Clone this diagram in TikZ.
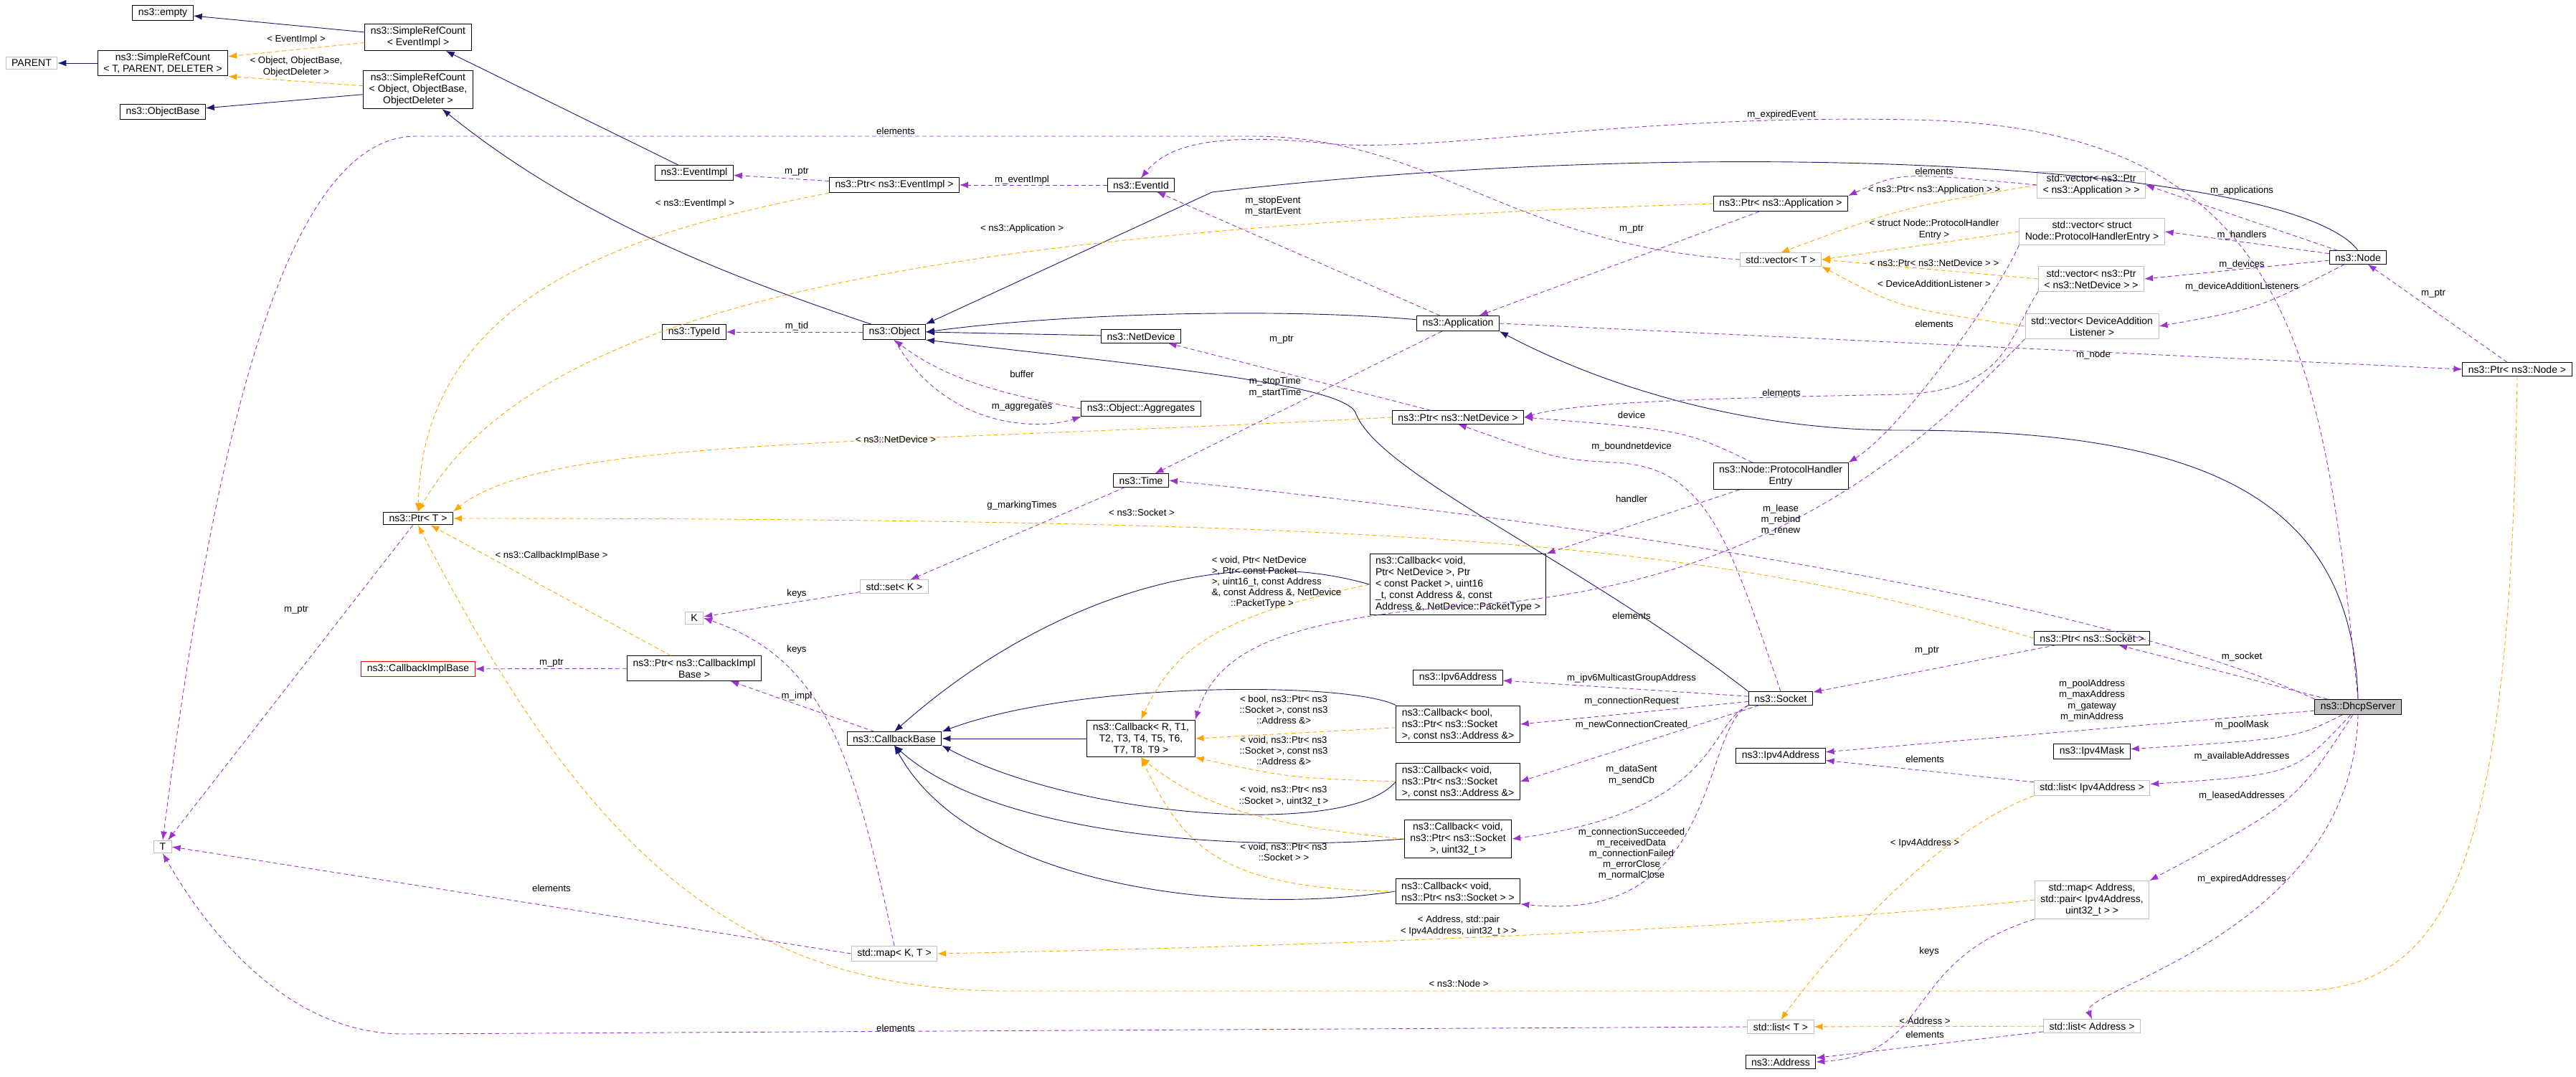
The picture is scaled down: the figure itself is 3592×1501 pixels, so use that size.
\documentclass[tikz,border=0pt]{standalone}
\usepackage{fontspec}
\setmainfont{Liberation Sans}
\usetikzlibrary{arrows.meta,positioning}
\definecolor{inhc}{HTML}{191970}
\definecolor{usec}{HTML}{9A32CD}
\definecolor{tplc}{HTML}{FFA500}
\definecolor{grayc}{HTML}{BFBFBF}
\tikzset{
  cls/.style={draw=black, rectangle, font=\fontsize{7}{8}\selectfont, align=center, inner xsep=4pt, inner ysep=2pt, line width=0.5pt},
  ext/.style={cls, draw=grayc},
  badcls/.style={cls, draw=red},
  lab/.style={font=\fontsize{6.6}{7.6}\selectfont, align=center, inner sep=0pt},
  inh/.style={draw=inhc, line width=0.45pt, -{Latex[length=6pt,width=4.5pt]}},
  use/.style={draw=usec, line width=0.45pt, dash pattern=on 3pt off 2pt, -{Latex[length=6pt,width=4.5pt]}},
  tpl/.style={draw=tplc, line width=0.45pt, dash pattern=on 3pt off 2pt, -{Latex[length=6pt,width=4.5pt]}}
}
\begin{document}
\begin{tikzpicture}[x=0.5pt, y=-0.5pt]
  \useasboundingbox (0,0) rectangle (3592,1501);

  % classes
  \node[cls] (empty) at (227,18) {ns3::empty};
  \node[ext] (parent) at (44,88) {PARENT};
  \node[cls] (srcgen) at (227,88) {ns3::SimpleRefCount\\< T, PARENT, DELETER >};
  \node[cls] (objbase) at (227,156) {ns3::ObjectBase};
  \node[cls] (srcevt) at (583,52) {ns3::SimpleRefCount\\< EventImpl >};
  \node[cls] (srcobj) at (583,125) {ns3::SimpleRefCount\\< Object, ObjectBase,\\ObjectDeleter >};
  \node[cls] (ptrt) at (583,723) {ns3::Ptr< T >};
  \node[badcls] (cbimpl) at (583,933) {ns3::CallbackImplBase};
  \node[ext] (tt) at (227,1181) {T};
  \node[cls] (evtimpl) at (968,241) {ns3::EventImpl};
  \node[cls] (ptrevt) at (1247,258) {ns3::Ptr< ns3::EventImpl >};
  \node[cls] (evtid) at (1591,258) {ns3::EventId};
  \node[cls] (typeid) at (968,463) {ns3::TypeId};
  \node[cls] (object) at (1247,463) {ns3::Object};
  \node[cls] (netdev) at (1591,469) {ns3::NetDevice};
  \node[cls] (aggr) at (1591,570) {ns3::Object::Aggregates};
  \node[cls] (time) at (1591,670) {ns3::Time};
  \node[ext] (setk) at (1247,818) {std::set< K >};
  \node[ext] (kk) at (968,862) {K};
  \node[cls] (ptrcbi) at (968,932) {ns3::Ptr< ns3::CallbackImpl\\Base >};
  \node[cls] (cbbase) at (1247,1030) {ns3::CallbackBase};
  \node[cls] (cbrt) at (1591,1030) {ns3::Callback< R, T1,\\T2, T3, T4, T5, T6,\\T7, T8, T9 >};
  \node[ext] (mapkt) at (1247,1330) {std::map< K, T >};
  \node[cls] (ptrapp) at (2483,284) {ns3::Ptr< ns3::Application >};
  \node[ext] (vect) at (2483,362) {std::vector< T >};
  \node[cls] (app) at (2033,451) {ns3::Application};
  \node[cls] (ptrnd) at (2033,582) {ns3::Ptr< ns3::NetDevice >};
  \node[cls] (phe) at (2483,664) {ns3::Node::ProtocolHandler\\Entry};
  \node[cls, align=left] (cbnd) at (2033,815) {ns3::Callback< void,\\ Ptr< NetDevice >, Ptr\\< const Packet >, uint16\\\_t, const Address \&, const\\ Address \&, NetDevice::PacketType >};
  \node[cls] (ipv6) at (2033,945) {ns3::Ipv6Address};
  \node[cls] (socket) at (2483,974) {ns3::Socket};
  \node[cls, align=left] (cbbool) at (2033,1010) {ns3::Callback< bool,\\ns3::Ptr< ns3::Socket\\>, const ns3::Address \&>};
  \node[cls] (ipv4) at (2483,1054) {ns3::Ipv4Address};
  \node[cls, align=left] (cbaddr) at (2033,1090) {ns3::Callback< void,\\ns3::Ptr< ns3::Socket\\>, const ns3::Address \&>};
  \node[cls] (cbuint) at (2033,1170) {ns3::Callback< void,\\ns3::Ptr< ns3::Socket\\>, uint32\_t >};
  \node[cls, align=left] (cbvoid) at (2033,1243) {ns3::Callback< void,\\ ns3::Ptr< ns3::Socket > >};
  \node[ext] (listt) at (2483,1432) {std::list< T >};
  \node[cls] (address) at (2483,1481) {ns3::Address};
  \node[ext] (vecapp) at (2916,258) {std::vector< ns3::Ptr\\< ns3::Application > >};
  \node[ext] (vecphe) at (2917,323) {std::vector< struct\\ Node::ProtocolHandlerEntry >};
  \node[ext] (vecnd) at (2916,389) {std::vector< ns3::Ptr\\< ns3::NetDevice > >};
  \node[ext] (vecdal) at (2917,455) {std::vector< DeviceAddition\\Listener >};
  \node[cls] (node) at (3288,359) {ns3::Node};
  \node[cls] (ptrnode) at (3510,515) {ns3::Ptr< ns3::Node >};
  \node[cls] (ptrsock) at (2917,890) {ns3::Ptr< ns3::Socket >};
  \node[cls, fill=grayc] (dhcp) at (3288,986) {ns3::DhcpServer};
  \node[cls] (mask) at (2917,1048) {ns3::Ipv4Mask};
  \node[ext] (listip) at (2917,1099) {std::list< Ipv4Address >};
  \node[ext] (mapaddr) at (2917,1255) {std::map< Address,\\ std::pair< Ipv4Address,\\uint32\_t > >};
  \node[ext] (listaddr) at (2917,1431) {std::list< Address >};

  % inheritance
  \draw[inh] (srcevt) -- (empty);
  \draw[inh] (srcgen) -- (parent);
  \draw[inh] (srcobj) -- (objbase);
  \draw[inh] (evtimpl) -- (srcevt);
  \draw[inh] (object) .. controls (1000,380) and (800,300) .. (srcobj);
  \draw[inh] (app) .. controls (1800,430) and (1500,435) .. (object.east);
  \draw[inh] (netdev) -- (object.east);
  \draw[inh] (node.north) .. controls (3200,230) and (2400,185) .. (1690,268) -- (object.north east);
  \draw[inh] (socket.north west) .. controls (2200,780) and (1920,660) .. (1890,575) .. controls (1870,535) and (1600,510) .. (object.south east);
  \draw[inh] (dhcp.north) .. controls (3280,680) and (3050,600) .. (2650,600) .. controls (2400,600) and (2200,520) .. (app.south east);
  \draw[inh] (cbrt) -- (cbbase);
  \draw[inh] (cbnd.west) .. controls (1700,755) and (1450,840) .. (cbbase.north);
  \draw[inh] (cbbool.north west) .. controls (1880,950) and (1500,950) .. (cbbase.north east);
  \draw[inh] (cbaddr.west) .. controls (1880,1170) and (1500,1140) .. (cbbase.south east);
  \draw[inh] (cbuint.west) .. controls (1700,1190) and (1380,1160) .. (cbbase.south);
  \draw[inh] (cbvoid.west) .. controls (1700,1280) and (1350,1230) .. (cbbase.south);

  % template instances
  \draw[tpl] (srcevt) -- (srcgen);
  \draw[tpl] (srcobj) -- (srcgen.south east);
  \draw[tpl] (ptrevt.south west) .. controls (900,320) and (590,400) .. (ptrt.north);
  \draw[tpl] (ptrapp.west) .. controls (1300,320) and (750,420) .. (ptrt.north);
  \draw[tpl] (ptrnd.west) .. controls (1200,621) and (760,610) .. (ptrt.north east);
  \draw[tpl] (ptrsock.west) .. controls (2400,760) and (2000,723) .. (ptrt.east);
  \draw[tpl] (ptrcbi) -- (ptrt);
  \draw[tpl] (ptrnode.south) .. controls (3500,1200) and (3420,1382) .. (3200,1382) -- (1400,1382) .. controls (1000,1380) and (800,1150) .. (ptrt.south);
  \draw[tpl] (vecapp.west) .. controls (2650,290) .. (vect.north);
  \draw[tpl] (vecphe.west) -- (vect.east);
  \draw[tpl] (vecnd.west) -- (vect.east);
  \draw[tpl] (vecdal.west) .. controls (2650,430) .. (vect.south east);
  \draw[tpl] (cbnd.west) .. controls (1700,860) and (1640,900) .. (cbrt.north);
  \draw[tpl] (cbbool) -- (cbrt.east);
  \draw[tpl] (cbaddr.west) .. controls (1800,1085) .. (cbrt.south east);
  \draw[tpl] (cbuint.west) .. controls (1750,1150) and (1670,1120) .. (cbrt.south);
  \draw[tpl] (cbvoid.west) .. controls (1700,1240) and (1650,1180) .. (cbrt.south);
  \draw[tpl] (mapaddr.west) .. controls (2400,1300) and (1800,1320) .. (mapkt.east);
  \draw[tpl] (listip.south west) .. controls (2700,1160) and (2550,1330) .. (listt.north);
  \draw[tpl] (listaddr) -- (listt);

  % usage
  \draw[use] (ptrevt) -- (evtimpl);
  \draw[use] (evtid) -- (ptrevt);
  \draw[use] (object) -- (typeid);
  \draw[use] (aggr.west) .. controls (1400,550) and (1320,530) .. (object.south);
  \draw[use] (object.south) .. controls (1320,600) and (1450,600) .. (aggr.south west);
  \draw[use] (ptrt) -- (tt);
  \draw[use] (vect.west) .. controls (2100,340) and (2000,192) .. (1750,190) -- (580,190) .. controls (400,190) and (300,600) .. (tt.north);
  \draw[use] (mapkt.west) -- (tt.east);
  \draw[use] (listt.west) -- (560,1442) .. controls (400,1440) and (290,1300) .. (tt.south);
  \draw[use] (setk) -- (kk);
  \draw[use] (mapkt.north) .. controls (1190,1050) and (1150,920) .. (kk.east);
  \draw[use] (time) -- (setk);
  \draw[use] (ptrcbi) -- (cbimpl);
  \draw[use] (cbbase) -- (ptrcbi);
  \draw[use] (app) -- (evtid);
  \draw[use] (dhcp.north) .. controls (3240,500) and (3200,190) .. (2700,168) .. controls (2300,155) and (2000,215) .. (1850,200) .. controls (1700,185) and (1630,200) .. (evtid.north);
  \draw[use] (ptrapp) -- (app);
  \draw[use] (ptrnd) -- (netdev);
  \draw[use] (app) -- (time);
  \draw[use] (dhcp.north west) .. controls (3000,870) and (2500,760) .. (time.east);
  \draw[use] (app.east) -- (ptrnode.west);
  \draw[use] (vecapp.west) .. controls (2650,240) .. (ptrapp.north east);
  \draw[use] (vecnd.south west) .. controls (2800,470) and (2800,545) .. (2650,550) .. controls (2400,555) and (2200,560) .. (ptrnd.east);
  \draw[use] (phe) .. controls (2350,600) .. (ptrnd.east);
  \draw[use] (socket.north) .. controls (2410,750) and (2380,650) .. (2250,645) .. controls (2170,640) .. (ptrnd.south);
  \draw[use] (phe) -- (cbnd.north east);
  \draw[use] (vecphe.south west) .. controls (2780,420) and (2650,600) .. (phe.north east);
  \draw[use] (vecdal.south west) .. controls (2700,600) and (2500,800) .. (2100,840) .. controls (1800,860) and (1700,900) .. (cbrt.north east);
  \draw[use] (node) -- (vecapp.east);
  \draw[use] (node) -- (vecphe.east);
  \draw[use] (node) -- (vecnd.east);
  \draw[use] (node) .. controls (3150,430) .. (vecdal.east);
  \draw[use] (ptrnode) -- (node);
  \draw[use] (socket) -- (ipv6);
  \draw[use] (socket) -- (cbbool.east);
  \draw[use] (socket) -- (cbaddr.east);
  \draw[use] (socket.south west) .. controls (2380,1010) and (2400,1130) .. (cbuint.east);
  \draw[use] (socket.south west) .. controls (2370,1020) and (2400,1290) .. (cbvoid.south east);
  \draw[use] (ptrsock) -- (socket);
  \draw[use] (dhcp) -- (ptrsock);
  \draw[use] (dhcp) -- (ipv4);
  \draw[use] (listip) -- (ipv4);
  \draw[use] (dhcp) .. controls (3200,1030) .. (mask);
  \draw[use] (dhcp) .. controls (3200,1080) .. (listip);
  \draw[use] (dhcp) .. controls (3200,1120) .. (mapaddr.north east);
  \draw[use] (dhcp.south) .. controls (3280,1300) and (2900,1380) .. (listaddr.north);
  \draw[use] (mapaddr.south west) .. controls (2650,1340) and (2700,1470) .. (address.east);
  \draw[use] (listaddr) -- (address);

  % labels
  \node[lab] (lA1) at (413,55) {< EventImpl >};
  \node[lab] (lA2) at (413,93) {< Object, ObjectBase,\\ObjectDeleter >};
  \node[lab] (lA3) at (769,775) {< ns3::CallbackImplBase >};
  \node[lab] (lA4) at (413,851) {m\_ptr};
  \node[lab] (lA5) at (769,925) {m\_ptr};
  \node[lab] (lA6) at (769,1239) {elements};
  \node[lab] (lB1) at (1249,183) {elements};
  \node[lab] (lB2) at (1111,240) {m\_ptr};
  \node[lab] (lB3) at (969,284) {< ns3::EventImpl >};
  \node[lab] (lB4) at (1425,251) {m\_eventImpl};
  \node[lab] (lB5) at (1425,319) {< ns3::Application >};
  \node[lab] (lB6) at (1111,455) {m\_tid};
  \node[lab] (lB7) at (1425,522) {buffer};
  \node[lab] (lB8) at (1425,568) {m\_aggregates};
  \node[lab] (lB9) at (1249,613) {< ns3::NetDevice >};
  \node[lab] (lB10) at (1425,705) {g\_markingTimes};
  \node[lab] (lB11) at (1592,715) {< ns3::Socket >};
  \node[lab] (lB12) at (1111,828) {keys};
  \node[lab] (lB13) at (1111,906) {keys};
  \node[lab] (lB14) at (1111,971) {m\_impl};
  \node[lab] (lB15) at (1249,1434) {elements};
  \node[lab] (lC1) at (2484,160) {m\_expiredEvent};
  \node[lab] (lC2) at (1775,288) {m\_stopEvent\\m\_startEvent};
  \node[lab] (lC3) at (2275,320) {m\_ptr};
  \node[lab] (lC4) at (1787,474) {m\_ptr};
  \node[lab] (lC5) at (1778,540) {m\_stopTime\\m\_startTime};
  \node[lab] (lC6) at (2484,548) {elements};
  \node[lab] (lC7) at (2275,579) {device};
  \node[lab] (lC8) at (2275,623) {m\_boundnetdevice};
  \node[lab] (lC9) at (2275,696) {handler};
  \node[lab] (lC10) at (2483,725) {m\_lease\\m\_rebind\\m\_renew};
  \node[lab] (lC11) at (2275,859) {elements};
  \node[lab] (lD1) at (2697,239) {elements};
  \node[lab] (lD2) at (2697,265) {< ns3::Ptr< ns3::Application > >};
  \node[lab] (lD3) at (2697,320) {< struct Node::ProtocolHandler\\Entry >};
  \node[lab] (lD4) at (2697,367) {< ns3::Ptr< ns3::NetDevice > >};
  \node[lab] (lD5) at (2697,396) {< DeviceAdditionListener >};
  \node[lab] (lD6) at (2697,452) {elements};
  \node[lab] (lE1) at (3126,266) {m\_applications};
  \node[lab] (lE2) at (3126,328) {m\_handlers};
  \node[lab] (lE3) at (3126,369) {m\_devices};
  \node[lab] (lE4) at (3126,400) {m\_deviceAdditionListeners};
  \node[lab] (lE5) at (3393,410) {m\_ptr};
  \node[lab] (lE6) at (2919,495) {m\_node};
  \node[lab] (lE7) at (3126,916) {m\_socket};
  \node[lab] (lE8) at (2917,977) {m\_poolAddress\\m\_maxAddress\\m\_gateway\\m\_minAddress};
  \node[lab] (lE9) at (3126,1011) {m\_poolMask};
  \node[lab] (lE10) at (3126,1055) {m\_availableAddresses};
  \node[lab] (lE11) at (3126,1110) {m\_leasedAddresses};
  \node[lab] (lE12) at (3126,1226) {m\_expiredAddresses};
  \node[lab] (lF1) at (2275,946) {m\_ipv6MulticastGroupAddress};
  \node[lab] (lF2) at (2275,978) {m\_connectionRequest};
  \node[lab] (lF3) at (2275,1011) {m\_newConnectionCreated};
  \node[lab] (lF4) at (2275,1081) {m\_dataSent\\m\_sendCb};
  \node[lab] (lF5) at (2275,1191) {m\_connectionSucceeded\\m\_receivedData\\m\_connectionFailed\\m\_errorClose\\m\_normalClose};
  \node[lab] (lF6) at (2034,1291) {< Address, std::pair\\< Ipv4Address, uint32\_t > >};
  \node[lab] (lF7) at (2034,1372) {< ns3::Node >};
  \node[lab] (lF8) at (2684,1176) {< Ipv4Address >};
  \node[lab] (lF9) at (2690,1327) {keys};
  \node[lab] (lF10) at (2684,1424) {< Address >};
  \node[lab] (lF11) at (2684,1443) {elements};
  \node[lab] (lF12) at (2684,1059) {elements};
  \node[lab] (lF13) at (2687,908) {m\_ptr};
  \node[lab, align=left] (lG1) at (1780,812) {< void, Ptr< NetDevice\\>, Ptr< const Packet\\>, uint16\_t, const Address\\\&, const Address \&, NetDevice\\\hspace*{2em}::PacketType >};
  \node[lab] (lG2) at (1790,990) {< bool, ns3::Ptr< ns3\\::Socket >, const ns3\\::Address \&>};
  \node[lab] (lG3) at (1790,1047) {< void, ns3::Ptr< ns3\\::Socket >, const ns3\\::Address \&>};
  \node[lab] (lG4) at (1790,1110) {< void, ns3::Ptr< ns3\\::Socket >, uint32\_t >};
  \node[lab] (lG5) at (1790,1188) {< void, ns3::Ptr< ns3\\::Socket > >};
\end{tikzpicture}
\end{document}
